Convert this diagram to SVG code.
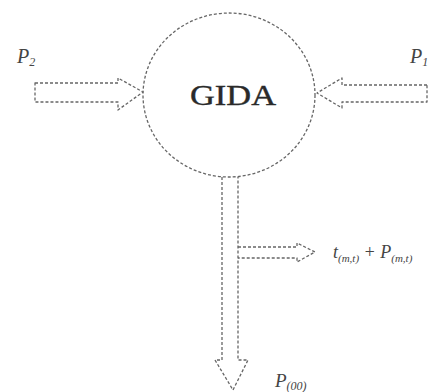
<svg xmlns="http://www.w3.org/2000/svg" width="443" height="392" viewBox="0 0 443 392">
<style>
.d{fill:none;stroke:#666;stroke-width:1.3;stroke-dasharray:3 2;stroke-linejoin:round}
.lbl{font-family:"Liberation Serif","DejaVu Serif",serif;font-style:italic;fill:#444}
.t{font-family:"Liberation Serif","DejaVu Serif",serif;fill:#2a2a2a;stroke:#2a2a2a;stroke-width:0.4}
</style>
<rect width="443" height="392" fill="#fff"/>
<g id="gida">
<ellipse class="d" cx="229" cy="95" rx="86" ry="82"/>
<text class="t" x="233" y="105" font-size="30" text-anchor="middle" textLength="86" lengthAdjust="spacingAndGlyphs">GIDA</text>
</g>
<g id="connectors">
<polygon class="d" points="35,83 118,83 118,78 143,92 118,110 118,102 35,102"/>
<polygon class="d" points="427,85 342,85 342,78 317,93 342,108 342,102 427,102"/>
<polyline class="d" points="222,177 222,360 215,360 233,390 248,360 238,360 238,177"/>
<polyline class="d" points="238,247 297,247 297,243 315,252 297,262 297,258 238,258"/>
</g>
<g id="label-p-left">
<text class="lbl" x="17" y="63" font-size="20">P<tspan font-size="12" dy="3">2</tspan></text>
</g>
<g id="label-p-right">
<text class="lbl" x="410" y="63" font-size="20">P<tspan font-size="12" dy="3">1</tspan></text>
</g>
<g id="label-branch">
<text class="lbl" x="333" y="258" font-size="18">t<tspan font-size="11" dy="4">(m,t)</tspan><tspan dy="-4"> + P</tspan><tspan font-size="11" dy="4">(m,t)</tspan></text>
</g>
<g id="label-bottom">
<text class="lbl" x="275" y="387" font-size="19">P<tspan font-size="12" dy="3">(00)</tspan></text>
</g>
</svg>
